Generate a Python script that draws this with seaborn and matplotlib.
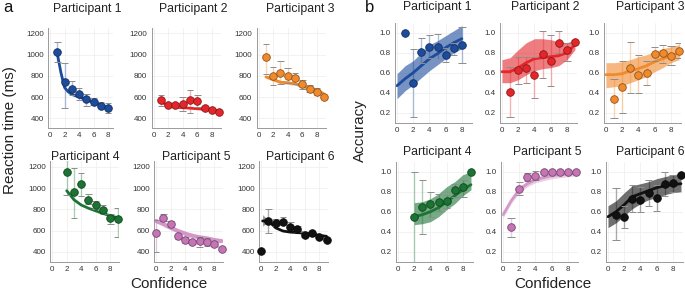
import numpy as np
import pandas as pd
import matplotlib
matplotlib.use("Agg")
import matplotlib.pyplot as plt
import matplotlib.colors as mcolors
import seaborn as sns

sns.set_theme(style="whitegrid")
plt.rcParams['font.family'] = ['Liberation Sans', 'DejaVu Sans']

NAN = np.nan
# ---------------- data: panel a (reaction time, ms) ----------------
rt_x = {
    1: [1, 2, 3, 4, 5, 6, 7, 8],
    2: [1, 2, 3, 4, 5, 6, 7, 8, 9],
    3: [1, 2, 3, 4, 5, 6, 7, 8, 9],
    4: [2, 3, 4, 5, 6, 7, 8, 9],
    5: [0, 1, 2, 3, 4, 5, 6, 7, 8, 9],
    6: [0, 1, 2, 3, 4, 5, 6, 7, 8, 9],
}
rt_y = {
    1: [1025, 740, 680, 630, 585, 555, 520, 500],
    2: [570, 525, 525, 535, 575, 565, 500, 475, 455],
    3: [975, 795, 830, 800, 780, 720, 680, 650, 605],
    4: [1150, 960, 1035, 890, 840, 795, 715, 710],
    5: [580, 720, 660, 545, 510, 490, 500, 495, 475, 430],
    6: [410, 690, 670, 680, 635, 610, 560, 575, 540, 515],
}
rt_lo = {
    1: [930, 500, 620, 575, 515, 525, 495, 450],
    2: [520, 505, 510, 470, 450, 510, 480, 460, 440],
    3: [820, 715, 720, 730, 725, 680, 645, 615, 590],
    4: [935, 715, 925, 850, 800, 760, 665, 535],
    5: [400, 690, 630, 520, 485, 470, 440, 455, 455, 415],
    6: [NAN, 580, 640, 650, 610, 590, 540, 550, 520, 500],
}
rt_hi = {
    1: [1120, 920, 750, 690, 630, 590, 550, 540],
    2: [620, 545, 540, 600, 665, 620, 520, 490, 470],
    3: [1100, 880, 940, 870, 830, 765, 715, 690, 620],
    4: [1270, 1185, 1145, 945, 880, 845, 760, 810],
    5: [700, 755, 685, 570, 540, 510, 540, 530, 495, 445],
    6: [NAN, 800, 710, 730, 680, 640, 585, 600, 570, 530],
}
rt_fit_x = {
    1: [1, 1.5, 2, 2.5, 3, 4, 5, 6, 7, 8],
    2: [1, 2, 3, 4, 5, 6, 7, 8, 9],
    3: [1, 2, 3, 4, 5, 6, 7, 8, 9],
    4: [2, 3, 4, 5, 6, 7, 8, 9],
    5: [0, 1, 2, 3, 4, 5, 6, 7, 8, 9],
    6: [0.2, 1, 2, 3, 4, 5, 6, 7, 8, 9],
}
rt_fit_y = {
    1: [1010, 830, 690, 650, 625, 600, 575, 550, 525, 500],
    2: [555, 520, 505, 500, 495, 490, 485, 480, 470],
    3: [790, 765, 740, 735, 725, 705, 680, 665, 630],
    4: [975, 890, 840, 810, 785, 760, 740, 720],
    5: [690, 660, 625, 595, 570, 550, 535, 525, 510, 500],
    6: [690, 690, 625, 595, 585, 580, 575, 565, 555, 545],
}
rt_band_lo = {3: [775, 750, 725, 720, 710, 690, 665, 650, 615],
              6: [640, 690, 625, 595, 585, 580, 575, 565, 555, 545]}
rt_band_hi = {3: [805, 780, 755, 750, 740, 720, 695, 680, 645],
              6: [750, 690, 625, 595, 585, 580, 575, 565, 555, 545]}

# ---------------- data: panel b (accuracy) ----------------
acc_x = {
    1: [1, 2, 3, 4, 5, 6, 7, 8],
    2: [1, 2, 3, 4, 5, 6, 7, 8, 9],
    3: [1, 2, 3, 4, 5, 6, 7, 8, 9],
    4: [2, 3, 4, 5, 6, 7, 8, 9],
    5: [1, 2, 3, 4, 5, 6, 7, 8, 9],
    6: [1, 2, 3, 4, 5, 6, 7, 8, 9],
}
acc_y = {
    1: [1.0, 0.5, 0.81, 0.86, 0.86, 0.78, 0.85, 0.88],
    2: [0.41, 0.63, 0.65, 0.58, 0.79, 0.72, 0.90, 0.83, 0.91],
    3: [0.34, 0.46, 0.65, 0.58, 0.60, 0.79, 0.80, 0.77, 0.82],
    4: [0.55, 0.65, 0.68, 0.70, 0.71, 0.82, 0.85, 1.0],
    5: [0.45, 0.83, 0.95, 0.96, 1.0, 1.0, 1.0, 1.0, 1.0],
    6: [0.57, 0.55, 0.73, 0.72, 0.79, 0.74, 0.88, 0.89, 0.97],
}
acc_lo = {
    1: [NAN, 0.16, 0.70, 0.75, 0.74, 0.71, 0.78, 0.70],
    2: [0.16, 0.49, 0.50, 0.35, 0.55, 0.47, 0.80, 0.72, 0.88],
    3: [0.15, 0.20, 0.40, 0.40, 0.48, 0.72, 0.70, 0.68, 0.75],
    4: [0.0, 0.38, 0.55, 0.61, 0.64, 0.75, 0.75, NAN],
    5: [0.35, 0.77, 0.91, 0.92, 0.98, 0.98, 0.98, 0.98, 0.98],
    6: [0.32, 0.44, 0.60, 0.60, 0.66, 0.61, 0.76, 0.80, NAN],
}
acc_hi = {
    1: [NAN, 0.84, 0.95, 0.98, 0.99, 0.85, 0.90, 1.06],
    2: [0.66, 0.76, 0.76, 0.76, 1.02, 0.98, 1.02, 0.90, 0.93],
    3: [0.54, 0.72, 0.91, 0.78, 0.72, 0.86, 0.88, 0.87, 0.90],
    4: [1.0, 0.92, 0.80, 0.78, 0.77, 0.88, 0.92, NAN],
    5: [0.54, 0.90, 0.99, 1.01, 1.01, 1.01, 1.01, 1.01, 1.01],
    6: [0.84, 0.66, 0.87, 0.85, 0.92, 0.87, 1.00, 0.97, NAN],
}
acc_fit_x = {
    1: [0, 1, 2, 3, 4, 5, 6, 7, 8],
    2: [0, 1, 2, 3, 4, 5, 6, 7, 8, 9],
    3: [0, 1, 2, 3, 4, 5, 6, 7, 8, 9],
    4: [2, 3, 4, 5, 6, 7, 8, 9],
    5: [0, 1, 2, 3, 4, 5, 6, 7, 8, 9],
    6: [0, 1, 2, 3, 4, 5, 6, 7, 8, 9],
}
acc_fit_y = {
    1: [0.47, 0.54, 0.60, 0.67, 0.74, 0.79, 0.85, 0.90, 0.94],
    2: [0.61, 0.61, 0.65, 0.70, 0.74, 0.75, 0.76, 0.77, 0.80, 0.88],
    3: [0.58, 0.58, 0.59, 0.62, 0.64, 0.67, 0.71, 0.74, 0.77, 0.80],
    4: [0.55, 0.57, 0.60, 0.64, 0.70, 0.76, 0.82, 0.87],
    5: [0.57, 0.71, 0.82, 0.88, 0.92, 0.94, 0.96, 0.97, 0.98, 0.99],
    6: [0.55, 0.60, 0.67, 0.75, 0.78, 0.81, 0.84, 0.86, 0.87, 0.88],
}
acc_band_lo = {
    1: [0.34, 0.42, 0.48, 0.55, 0.62, 0.68, 0.74, 0.80, 0.84],
    2: [0.50, 0.50, 0.53, 0.58, 0.62, 0.64, 0.65, 0.67, 0.73, 0.83],
    3: [0.45, 0.46, 0.47, 0.50, 0.53, 0.56, 0.61, 0.65, 0.70, 0.73],
    4: [0.47, 0.48, 0.50, 0.55, 0.62, 0.68, 0.76, 0.82],
    5: [0.54, 0.68, 0.79, 0.85, 0.89, 0.91, 0.93, 0.94, 0.95, 0.96],
    6: [0.44, 0.49, 0.56, 0.63, 0.68, 0.72, 0.74, 0.77, 0.79, 0.80],
}
acc_band_hi = {
    1: [0.59, 0.67, 0.72, 0.80, 0.88, 0.92, 0.97, 1.02, 1.07],
    2: [0.73, 0.75, 0.83, 0.90, 0.94, 0.94, 0.93, 0.91, 0.90, 0.93],
    3: [0.70, 0.70, 0.71, 0.73, 0.76, 0.78, 0.81, 0.84, 0.86, 0.88],
    4: [0.69, 0.70, 0.73, 0.78, 0.85, 0.90, 0.97, 1.0],
    5: [0.60, 0.74, 0.85, 0.91, 0.95, 0.97, 0.99, 1.0, 1.01, 1.02],
    6: [0.66, 0.71, 0.79, 0.86, 0.88, 0.90, 0.93, 0.95, 0.97, 0.98],
}

titles = ["Participant 1", "Participant 2", "Participant 3",
          "Participant 4", "Participant 5", "Participant 6"]
colors = {1: "#1d4c9c", 2: "#e4262b", 3: "#f08a2c",
          4: "#1b7434", 5: "#c574b6", 6: "#111111"}
rt_ticks = [400, 600, 800, 1000, 1200]
acc_ticks = [0.2, 0.4, 0.6, 0.8, 1.0]
x_ticks = [0, 2, 4, 6, 8]

# ---------------- layout (pixels) ----------------
W, H = 685, 294
fig = plt.figure(figsize=(W / 100, H / 100), dpi=100)


def add_ax(l, t, r, b):
    return fig.add_axes([l / W, 1 - b / H, (r - l) / W, (b - t) / H])


def darker(c, f=0.6):
    r, g, b = mcolors.to_rgb(c)
    return (r * f, g * f, b * f)


def style_ax(ax, yticks, ylim, xlim, fmt):
    ax.set_xlim(*xlim)
    ax.set_ylim(*ylim)
    ax.set_xticks(x_ticks)
    ax.set_yticks(yticks)
    ax.set_yticklabels([fmt(v) for v in yticks])
    ax.set_xlabel("")
    ax.set_ylabel("")
    ax.grid(True, color="#ededed", lw=0.5)
    for s in ["top", "right"]:
        ax.spines[s].set_visible(False)
    for s in ["left", "bottom"]:
        ax.spines[s].set_color("#9a9a9a")
        ax.spines[s].set_linewidth(0.7)
    ax.tick_params(axis="both", labelsize=5.8, colors="#9a9a9a",
                   labelcolor="#333333", length=1.5, width=0.5, pad=1.5)
    ax.set_facecolor("white")


def draw(ax, p, xs, ys, lo, hi, fx, fy, blo=None, bhi=None, band_alpha=0.6,
         line_lw=2.0, line_alpha=1.0):
    c = colors[p]
    if blo is not None:
        ax.fill_between(fx, blo, bhi, color=c, alpha=band_alpha, lw=0, zorder=1)
    fit = pd.DataFrame({"x": fx, "y": fy})
    sns.lineplot(data=fit, x="x", y="y", ax=ax, color=c, lw=line_lw,
                 alpha=line_alpha, zorder=2)
    pts = pd.DataFrame({"x": xs, "y": ys, "lo": lo, "hi": hi})
    e = pts.dropna()
    ax.vlines(e["x"], e["lo"], e["hi"], color=c, alpha=0.35, lw=1.0, zorder=3)
    ax.hlines(e["lo"], e["x"] - 0.45, e["x"] + 0.45, color="#8c8c8c", lw=0.7, zorder=3)
    ax.hlines(e["hi"], e["x"] - 0.45, e["x"] + 0.45, color="#8c8c8c", lw=0.7, zorder=3)
    sns.scatterplot(data=pts, x="x", y="y", ax=ax, color=c, s=30,
                    edgecolor=darker(c), linewidth=0.6, zorder=5, clip_on=False)


# panel a axes boxes (l, t, r, b) and xlims
a_boxes = {1: (48, 27.5, 112.5, 128.3), 2: (151.5, 27.5, 220.5, 128.3),
           3: (256.5, 27.5, 325.5, 128.3),
           4: (50, 161, 119, 261.7), 5: (154, 161, 223, 261.7),
           6: (259, 161, 328, 261.7)}
a_xlim = {1: (-0.28, 8.6), 2: (-0.3, 9.2), 3: (-0.3, 9.2),
          4: (-0.3, 9.2), 5: (-0.3, 9.2), 6: (-0.3, 9.2)}
b_boxes = {1: (395, 22.7, 472, 122.7), 2: (500, 22.7, 577, 122.7),
           3: (604, 22.7, 681, 122.7),
           4: (396, 161.7, 473, 261.7), 5: (501, 161.7, 578, 261.7),
           6: (606, 161.7, 683, 261.7)}

for p in range(1, 7):
    ax = add_ax(*a_boxes[p])
    if p == 5:
        draw(ax, p, rt_x[p], rt_y[p], rt_lo[p], rt_hi[p], rt_fit_x[p], rt_fit_y[p],
             line_lw=3.0, line_alpha=0.75)
    elif p == 6:
        draw(ax, p, rt_x[p], rt_y[p], rt_lo[p], rt_hi[p], rt_fit_x[p], rt_fit_y[p],
             rt_band_lo[p], rt_band_hi[p], band_alpha=0.45)
    elif p == 3:
        draw(ax, p, rt_x[p], rt_y[p], rt_lo[p], rt_hi[p], rt_fit_x[p], rt_fit_y[p],
             rt_band_lo[p], rt_band_hi[p], band_alpha=0.45)
    else:
        draw(ax, p, rt_x[p], rt_y[p], rt_lo[p], rt_hi[p], rt_fit_x[p], rt_fit_y[p])
    style_ax(ax, rt_ticks, (306, 1255), a_xlim[p], lambda v: f"{v:d}")

for p in range(1, 7):
    ax = add_ax(*b_boxes[p])
    if p == 5:
        draw(ax, p, acc_x[p], acc_y[p], acc_lo[p], acc_hi[p], acc_fit_x[p],
             acc_fit_y[p], acc_band_lo[p], acc_band_hi[p], band_alpha=0.35,
             line_lw=2.0, line_alpha=0.6)
    else:
        draw(ax, p, acc_x[p], acc_y[p], acc_lo[p], acc_hi[p], acc_fit_x[p],
             acc_fit_y[p], acc_band_lo[p], acc_band_hi[p], band_alpha=0.6)
    style_ax(ax, acc_ticks, (0.1, 1.1), (-0.25, 9.25), lambda v: f"{v:.1f}")

# titles
a_title_pos = [(87, 9), (193, 9), (300, 9), (85, 157), (196, 157), (300, 157)]
b_title_pos = [(437, 7), (545, 7), (650, 7), (437, 152), (547, 152), (650, 152)]
for t, (x, y) in zip(titles, a_title_pos):
    fig.text(x / W, 1 - y / H, t, ha="center", va="center", fontsize=8.8, color="#222222")
for t, (x, y) in zip(titles, b_title_pos):
    fig.text(x / W, 1 - y / H, t, ha="center", va="center", fontsize=8.8, color="#222222")

fig.text(8 / W, 1 - 8 / H, "a", ha="center", va="center", fontsize=12, color="#111111")
fig.text(370 / W, 1 - 8 / H, "b", ha="center", va="center", fontsize=12, color="#111111")
fig.text(10 / W, 1 - 130 / H, "Reaction time (ms)", rotation=90, ha="center",
         va="center", fontsize=11, color="#222222")
fig.text(360 / W, 1 - 131 / H, "Accuracy", rotation=90, ha="center",
         va="center", fontsize=11, color="#222222")
fig.text(169 / W, 1 - 284 / H, "Confidence", ha="center", va="center",
         fontsize=11, color="#222222")
fig.text(553 / W, 1 - 284 / H, "Confidence", ha="center", va="center",
         fontsize=11, color="#222222")

fig.savefig("out.png", dpi=100, facecolor="white")
